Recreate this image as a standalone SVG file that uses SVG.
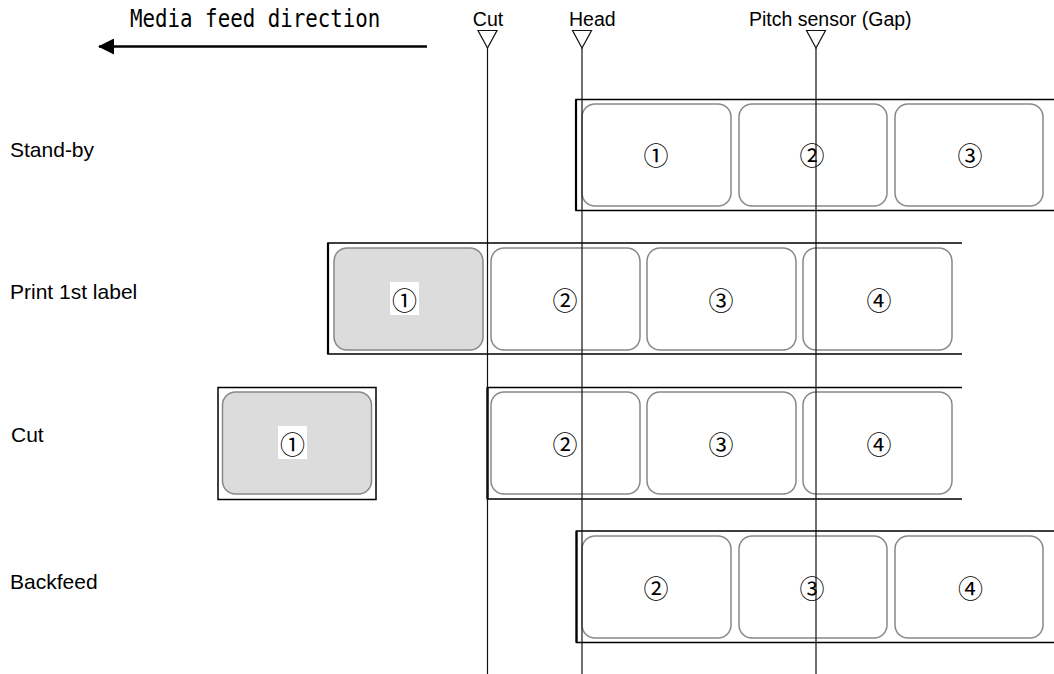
<svg xmlns="http://www.w3.org/2000/svg" width="1054" height="674" viewBox="0 0 1054 674">
<style>
.lbl{font-family:"Liberation Sans",Arial,sans-serif;font-size:21px;fill:#000}
.top{font-family:"Liberation Sans",Arial,sans-serif;font-size:19.5px;fill:#000}
.mono{font-family:"DejaVu Sans Mono","Liberation Mono",monospace;font-size:20.8px;fill:#000}
.num{font-family:"Noto Sans CJK JP","DejaVu Sans",sans-serif;font-size:25px;fill:#000;text-anchor:middle;dominant-baseline:central}
.strip{fill:none;stroke:#000;stroke-width:1.5}
.edge{stroke:#000;stroke-width:2.2}
.label{fill:#fff;stroke:#888;stroke-width:1.5}
.printed{fill:#dcdcdc;stroke:#888;stroke-width:1.5}
.guide{stroke:#111;stroke-width:1.2;fill:none}
.tri{fill:#fff;stroke:#111;stroke-width:1.2}
.bg{fill:#fff}
</style>
<defs>
<marker id="ah" viewBox="0 0 16 16" refX="15" refY="8" markerWidth="16" markerHeight="16" markerUnits="userSpaceOnUse" orient="auto">
<path d="M16,8 L0,0 L0,16 Z" fill="#000"/>
</marker>
</defs>

<g id="direction">
<text class="mono" x="130" y="22.5" transform="scale(1,1.2)">Media feed direction</text>
<line x1="427" y1="46.5" x2="99" y2="46.5" stroke="#000" stroke-width="2.5" marker-end="url(#ah)"/>
</g>

<g id="row-labels">
<text class="lbl" x="10" y="156.5">Stand-by</text>
<text class="lbl" x="10" y="299">Print 1st label</text>
<text class="lbl" x="11" y="442">Cut</text>
<text class="lbl" x="10" y="589">Backfeed</text>
</g>

<g id="standby">
<path class="strip" d="M1056,99.5 H576 V210.5 H1056"/>
<line class="edge" x1="576" y1="99.5" x2="576" y2="210.5"/>
<rect class="label" x="582" y="104" width="149" height="102" rx="13"/>
<rect class="label" x="739" y="104" width="148" height="102" rx="13"/>
<rect class="label" x="895" y="104" width="148" height="102" rx="13"/>
<text class="num" x="656" y="154">①</text>
<text class="num" x="812" y="154">②</text>
<text class="num" x="970" y="154">③</text>
</g>

<g id="print">
<path class="strip" d="M962,243 H328 V354 H962"/>
<line class="edge" x1="328" y1="243" x2="328" y2="354"/>
<rect class="printed" x="334" y="248" width="149" height="102" rx="13"/>
<rect class="label" x="491" y="248" width="149" height="102" rx="13"/>
<rect class="label" x="647" y="248" width="149" height="102" rx="13"/>
<rect class="label" x="803" y="248" width="149" height="102" rx="13"/>
<rect class="bg" x="390" y="282" width="29" height="33"/>
<text class="num" x="404.5" y="298.5">①</text>
<text class="num" x="565" y="298.5">②</text>
<text class="num" x="721" y="298.5">③</text>
<text class="num" x="879" y="298.5">④</text>
</g>

<g id="cut">
<rect class="strip" x="218" y="387.5" width="158" height="112"/>
<rect class="printed" x="222.5" y="392" width="149" height="102" rx="13"/>
<rect class="bg" x="278" y="426" width="29" height="33"/>
<text class="num" x="292.5" y="442.5">①</text>
<path class="strip" d="M962,387.5 H487.5 V499 H962"/>
<line class="edge" x1="487.5" y1="387.5" x2="487.5" y2="499"/>
<rect class="label" x="491" y="392" width="149" height="102" rx="13"/>
<rect class="label" x="647" y="392" width="149" height="102" rx="13"/>
<rect class="label" x="803" y="392" width="149" height="102" rx="13"/>
<text class="num" x="565" y="442.5">②</text>
<text class="num" x="721" y="442.5">③</text>
<text class="num" x="879" y="442.5">④</text>
</g>

<g id="backfeed">
<path class="strip" d="M1056,531 H576.5 V642.5 H1056"/>
<line class="edge" x1="576.5" y1="531" x2="576.5" y2="642.5"/>
<rect class="label" x="582" y="536" width="149" height="102" rx="13"/>
<rect class="label" x="739" y="536" width="148" height="102" rx="13"/>
<rect class="label" x="895" y="536" width="148" height="102" rx="13"/>
<text class="num" x="656" y="587">②</text>
<text class="num" x="812" y="587">③</text>
<text class="num" x="970.5" y="587">④</text>
</g>

<g id="guides">
<line class="guide" x1="487.5" y1="48" x2="487.5" y2="674"/>
<line class="guide" x1="582" y1="48" x2="582" y2="674"/>
<line class="guide" x1="816" y1="48" x2="816" y2="674"/>
</g>

<g id="marker-cut">
<text class="top" x="488" y="26" text-anchor="middle">Cut</text>
<path class="tri" d="M478,30.5 H497 L487.5,48 Z"/>
</g>
<g id="marker-head">
<text class="top" x="569" y="26">Head</text>
<path class="tri" d="M572.5,30.5 H591.5 L582,48 Z"/>
</g>
<g id="marker-pitch">
<text class="top" x="749" y="26">Pitch sensor (Gap)</text>
<path class="tri" d="M806.5,30.5 H825.5 L816,48 Z"/>
</g>
</svg>
